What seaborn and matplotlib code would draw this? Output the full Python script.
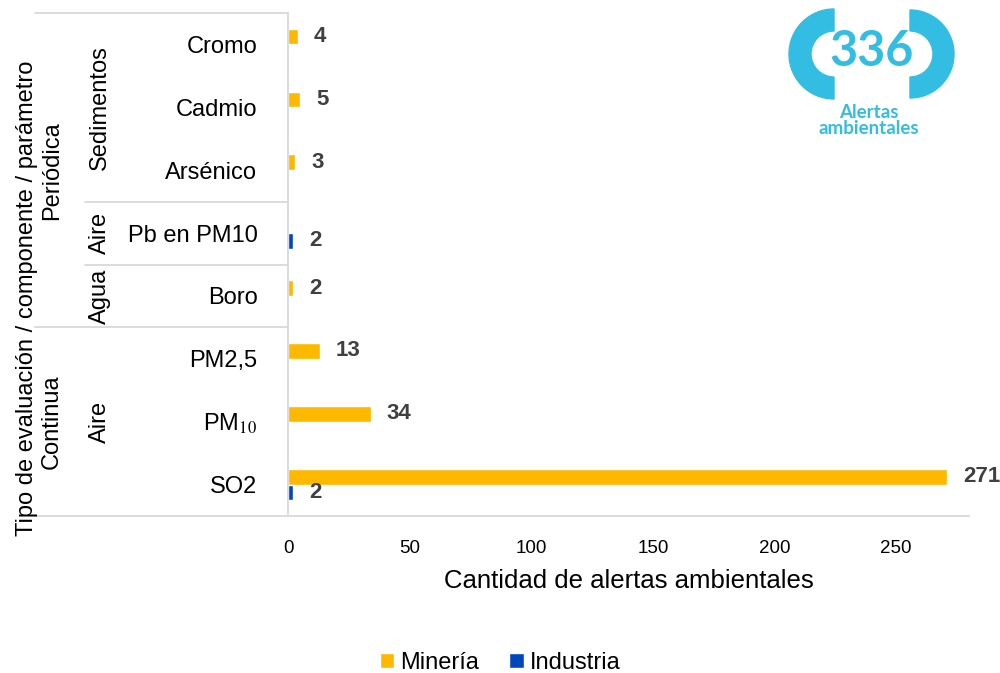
import numpy as np
import pandas as pd
import matplotlib
matplotlib.use("Agg")
import matplotlib.pyplot as plt
from matplotlib.patches import Wedge
import seaborn as sns

# ── Datos ────────────────────────────────────────────────────
parametros = ["Cromo", "Cadmio", "Arsénico", "Pb en PM10", "Boro",
              "PM2,5", r"PM$_{\mathrm{10}}$", "SO2"]
mineria   = [4, 5, 3, None, 2, 13, 34, 271]
industria = [None, None, None, 2, None, None, None, 2]
sectores  = ["Minería", "Industria"]
colores   = {"Minería": "#FFB800", "Industria": "#0047BB"}

# grupos del eje (nombre, primer índice, último índice)
componentes = [("Sedimentos", 0, 2), ("Aire", 3, 3), ("Agua", 4, 4), ("Aire", 5, 7)]
tipos       = [("Periódica", 0, 4), ("Continua", 5, 7)]
x_ticks     = [0, 50, 100, 150, 200, 250]
total_alertas = 336

filas = []
for p, m, i in zip(parametros, mineria, industria):
    if m is not None:
        filas.append((p, "Minería", m))
    if i is not None:
        filas.append((p, "Industria", i))
df = pd.DataFrame(filas, columns=["parametro", "sector", "alertas"])

# ── Estilo ───────────────────────────────────────────────────
sns.set_theme(style="white")
plt.rcParams["font.family"] = ["Liberation Sans", "DejaVu Sans"]
plt.rcParams["mathtext.fontset"] = "stix"
for k in ["text.color", "axes.labelcolor", "xtick.color", "ytick.color"]:
    plt.rcParams[k] = "black"
GRIS = "#D9D9D9"

W, H = 1000, 673
fig = plt.figure(figsize=(W / 100, H / 100), dpi=100)
AX_L, AX_R, AX_T, AX_B = 288, 969, 13, 516
ax = fig.add_axes([AX_L / W, 1 - AX_B / H, (AX_R - AX_L) / W, (AX_B - AX_T) / H])

sns.barplot(data=df, y="parametro", x="alertas", hue="sector",
            order=parametros, hue_order=sectores, palette=colores,
            width=0.5, saturation=1, errorbar=None, orient="h", ax=ax)

for cont in ax.containers:
    ax.bar_label(cont, fmt="%d", padding=11.5, fontsize=16,
                 fontweight="bold", color="#404040")

ax.set_xlim(0, 280)
ax.set_xticks(x_ticks)
ax.tick_params(axis="x", length=0, pad=17, labelsize=13.5)
ax.tick_params(axis="y", length=0, pad=22, labelsize=17)
ax.set_ylabel("")
ax.set_xlabel("Cantidad de alertas ambientales", fontsize=18.5, labelpad=9)
sns.despine(ax=ax, top=True, right=True)
for s in ["left", "bottom"]:
    ax.spines[s].set_color(GRIS)
    ax.spines[s].set_linewidth(1.3)

# ── Etiquetas jerárquicas del eje Y ─────────────────────────
tr = ax.get_yaxis_transform()
def fx(px):
    return (px - AX_L) / (AX_R - AX_L)

for nombre, a, b in componentes:
    ax.text(fx(100), (a + b) / 2, nombre, rotation=90, ha="center", va="center",
            fontsize=17, transform=tr, clip_on=False)
for nombre, a, b in tipos:
    ax.text(fx(52), (a + b) / 2, nombre, rotation=90, ha="center", va="center",
            fontsize=17, transform=tr, clip_on=False)

limites_tipo = {a - 0.5 for _, a, _ in tipos} | {b + 0.5 for _, _, b in tipos}
limites_comp = {a - 0.5 for _, a, _ in componentes} | {b + 0.5 for _, _, b in componentes}
for yb in sorted(limites_comp):
    x0 = fx(35) if yb in limites_tipo else fx(85)
    ax.plot([x0, 0], [yb, yb], color=GRIS, lw=1.3, transform=tr, clip_on=False)

ax.set_ylim(len(parametros) - 0.5, -0.5)

fig.text(27 / W, 1 - 298 / H, "Tipo de evaluación / componente / parámetro",
         rotation=90, ha="center", va="center", fontsize=17)

# ── Leyenda ──────────────────────────────────────────────────
leg = ax.get_legend()
handles = leg.legend_handles
labels = [t.get_text() for t in leg.get_texts()]
leg.remove()
fig.legend(handles, labels, loc="center", bbox_to_anchor=(0.5, 1 - 663 / H),
           ncol=2, frameon=False, fontsize=17, handlelength=0.6,
           handleheight=0.6, handletextpad=0.25, columnspacing=1.3)

# ── Logo "336 Alertas ambientales" ───────────────────────────
CIAN = "#33BDE3"
lx0, lx1, ly0, ly1 = 770, 980, 0, 150
lax = fig.add_axes([lx0 / W, 1 - ly1 / H, (lx1 - lx0) / W, (ly1 - ly0) / H])
lax.set_xlim(lx0, lx1)
lax.set_ylim(ly1, ly0)
lax.axis("off")
lax.add_patch(Wedge((834, 54), 45, 90, 270, width=22, color=CIAN))
lax.add_patch(Wedge((910, 54), 44, -90, 90, width=21, color=CIAN))
lax.text(872, 51, str(total_alertas), ha="center", va="center", fontsize=35,
         fontweight="bold", color=CIAN, family=["Lato", "DejaVu Sans"])
lax.text(869, 112, "Alertas", ha="center", va="center", fontsize=13.5,
         fontweight="bold", color=CIAN, family=["Lato", "DejaVu Sans"])
lax.text(869, 129, "ambientales", ha="center", va="center", fontsize=13.5,
         fontweight="bold", color=CIAN, family=["Lato", "DejaVu Sans"])

fig.savefig("out.png", dpi=100)
